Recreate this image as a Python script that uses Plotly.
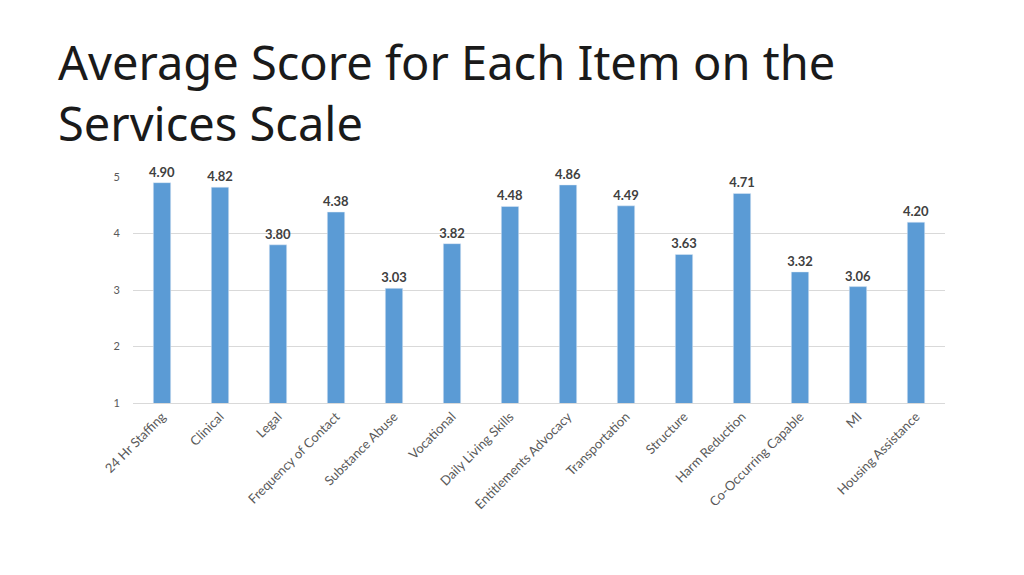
import plotly.graph_objects as go

categories = ["24 Hr Staffing", "Clinical", "Legal", "Frequency of Contact", "Substance Abuse",
              "Vocational", "Daily Living Skills", "Entitlements Advocacy", "Transportation",
              "Structure", "Harm Reduction", "Co-Occurring Capable", "MI", "Housing Assistance"]
scores = [4.90, 4.82, 3.80, 4.38, 3.03, 3.82, 4.48, 4.86, 4.49, 3.63, 4.71, 3.32, 3.06, 4.20]
y_ticks = [1, 2, 3, 4, 5]

fig = go.Figure(go.Bar(
    x=categories, y=scores, base=0,
    marker_color="#5B9BD5", width=0.3,
    text=[f"<b>{v:.2f}</b>" for v in scores], textposition="outside",
    constraintext="none",
    textfont=dict(family="Lato, sans-serif", size=13, color="#404040"),
    cliponaxis=False,
))

fig.update_layout(
    width=1024, height=575,
    paper_bgcolor="white", plot_bgcolor="white",
    margin=dict(l=125, r=87, t=169, b=180, autoexpand=False),
    showlegend=False,
    font=dict(family="Lato, sans-serif", color="#595959"),
    annotations=[dict(
        text="Average Score for Each Item on the<br>Services Scale",
        xref="paper", yref="paper", x=-0.095, y=1.66, xanchor="left", yanchor="top",
        showarrow=False, align="left",
        font=dict(family="Noto Sans, sans-serif", size=47, color="#1a1a1a"),
    )],
)
fig.update_xaxes(tickangle=-45, tickfont=dict(size=13, color="#595959"), automargin=False,
                 showline=True, linecolor="#d9d9d9", ticks="")
fig.update_yaxes(range=[1, 5], tickvals=y_ticks, tickfont=dict(size=11, color="#595959"),
                 automargin=False, gridcolor="#d9d9d9", zeroline=False,
                 ticklen=10, tickcolor="white", ticks="outside")

fig.write_html("out.html")
